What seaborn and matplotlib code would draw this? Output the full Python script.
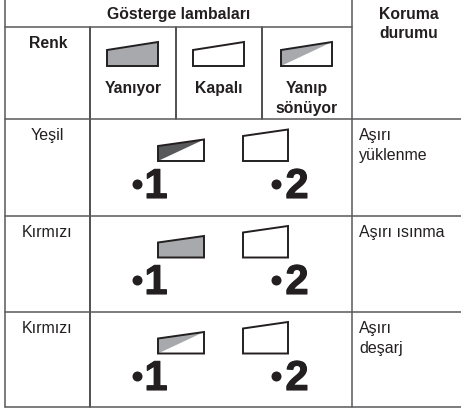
import matplotlib
matplotlib.use("Agg")
import matplotlib.pyplot as plt
from matplotlib.patches import Polygon
import matplotlib.patheffects as pe
import pandas as pd
import seaborn as sns

title = "Gösterge lambaları"
status_title = ["Koruma", "durumu"]
color_title = "Renk"
legend_labels = [["Yanıyor"], ["Kapalı"], ["Yanıp", "sönüyor"]]
legend_states = ["on", "off", "blink"]
row_colors = ["Yeşil", "Kırmızı", "Kırmızı"]
row_status = [["Aşırı", "yüklenme"], ["Aşırı ısınma"], ["Aşırı", "deşarj"]]
row_states = ["blink_dark", "on", "blink"]

GRID = "#58595b"
INK = "#231f20"
W, H = 461, 411

sns.set_style("white")
plt.rcParams["font.family"] = ["Liberation Sans", "DejaVu Sans"]


def rule(ax, x0, y0, x1, y1, color=GRID, lw=1.1):
    d = pd.DataFrame({"x": [x0, x1], "y": [y0, y1]})
    sns.lineplot(data=d, x="x", y="y", ax=ax, color=color, lw=lw,
                 estimator=None, sort=False, legend=False)


def lamp(ax, x0, x1, tl, tr, bottom, state):
    outline = [(x0, tl), (x1, tr), (x1, bottom), (x0, bottom)]
    fill = "white"
    if state == "on":
        fill = "#a7a9ac"
    ax.add_patch(Polygon(outline, closed=True, fc=fill, ec="none", zorder=3))
    if state.startswith("blink"):
        tone = "#58595b" if state == "blink_dark" else "#a7a9ac"
        ax.add_patch(Polygon([(x0, tl), (x1, tr), (x0, bottom)], closed=True,
                             fc=tone, ec="none", zorder=4))
    ax.add_patch(Polygon(outline, closed=True, fc="none", ec=INK, lw=1.4,
                         joinstyle="miter", zorder=5))


fig = plt.figure(figsize=(W / 100, H / 100), dpi=100)
ax = fig.add_axes([0, 0, 1, 1])
ax.set_xlim(0, W)
ax.set_ylim(H, 0)

# table rules
rule(ax, 5, 0, 5, 407)
rule(ax, 352, 0, 352, 407)
rule(ax, 90, 27, 90, 407, color=INK)
rule(ax, 176, 27, 176, 119, color=INK)
rule(ax, 262, 27, 262, 119, color=INK)
rule(ax, 5, 27, 352, 27)
for y in [119, 215.5, 312, 407]:
    rule(ax, 5, y, W, y)

# header
bold = dict(fontweight="bold", fontsize=11.3, color=INK, ha="center", va="baseline")
ax.text(179, 19, title, **bold)
ax.text(409, 19, status_title[0], **bold)
ax.text(409, 38, status_title[1], **bold)
ax.text(48, 48, color_title, **bold)

centers = [133, 219, 307]
lamp_x = [(107, 158), (193, 244), (281, 332)]
for i, state in enumerate(legend_states):
    lamp(ax, lamp_x[i][0], lamp_x[i][1], 50, 42, 66, state)
    for j, line in enumerate(legend_labels[i]):
        ax.text(centers[i], 93 + j * 20, line, **bold)

# rows
tops = [139.5, 236, 332]
digit_base = [198, 294, 390]
text_base = [140, 237, 333]
plain = dict(fontsize=11.5, color=INK, va="baseline")
for i, name in enumerate(row_colors):
    ax.text(47, text_base[i], name, ha="center", **plain)
    for j, line in enumerate(row_status[i]):
        ax.text(359, text_base[i] + j * 19.5, line, ha="left", **plain)

    b = tops[i] + 21.5
    lamp(ax, 158, 204, tops[i] + 6.5, tops[i], b, row_states[i])
    lamp(ax, 243, 288, tops[i] - 3.5, tops[i] - 10, b, "off")

    dots = pd.DataFrame({"x": [136.5, 275.5], "y": [digit_base[i] - 14] * 2})
    sns.scatterplot(data=dots, x="x", y="y", ax=ax, color=INK, s=52,
                    linewidth=0, legend=False, zorder=5)
    big = dict(fontweight="bold", fontsize=30, color=INK, ha="center", va="baseline",
               path_effects=[pe.withStroke(linewidth=0.8, foreground=INK)])
    ax.text(156, digit_base[i], "1", **big)
    ax.text(297, digit_base[i], "2", **big)

ax.set_xlabel("")
ax.set_ylabel("")
ax.set_xticks([])
ax.set_yticks([])
sns.despine(ax=ax, left=True, bottom=True)
fig.savefig("out.png", dpi=100)
